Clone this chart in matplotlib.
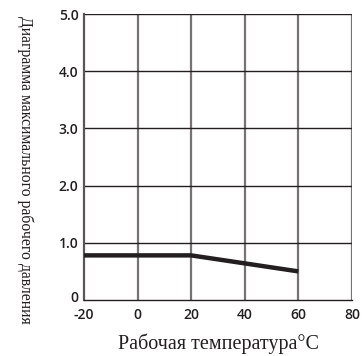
import matplotlib.pyplot as plt
import matplotlib.transforms as mtransforms
import numpy as np

# working temperature (C) and max working pressure
temp = [-20, 20, 60]
pressure = [0.78, 0.78, 0.5]

xticks = [-20, 0, 20, 40, 60, 80]
xlabels = ['-20', '0', '20', '40', '60', '80']
yticks = [0, 1.0, 2.0, 3.0, 4.0, 5.0]
ylabels = ['0', '1.0', '2.0', '3.0', '4.0', '5.0']

fig = plt.figure(figsize=(3.62, 3.56), dpi=100)
ax = fig.add_axes([84/362, 1 - 300/356, (352-84)/362, (300-14)/356])

ax.set_xlim(-20, 80)
ax.set_ylim(0, 5)

for x in xticks[1:]:
    ax.axvline(x, color='#777373', lw=1.6, zorder=1)
for y in yticks[1:]:
    ax.axhline(y, color='#231f20', lw=1.0, zorder=1)

ax.plot(temp, pressure, color='#231f20', lw=3.2, solid_capstyle='butt', zorder=3)

for s in ['top', 'right']:
    ax.spines[s].set_visible(False)
ax.spines['left'].set_color('#5a5556')
ax.spines['left'].set_linewidth(1.6)
ax.spines['bottom'].set_color('#231f20')
ax.spines['bottom'].set_linewidth(1.0)

ax.set_xticks(xticks)
ax.set_xticklabels(xlabels)
ax.set_yticks(yticks)
ax.set_yticklabels(ylabels)
ax.tick_params(length=0, labelsize=10, colors='#231f20')
ax.tick_params(axis='x', pad=6)
ax.tick_params(axis='y', pad=4)
for t in ax.get_xticklabels() + ax.get_yticklabels():
    t.set_fontweight('semibold')
    t.set_family('Open Sans')
# nudge the y "0" label up a little, like the reference
lab0 = ax.get_yticklabels()[0]
lab0.set_transform(lab0.get_transform() + mtransforms.ScaledTranslation(0, 3/100, fig.dpi_scale_trans))

ax.set_xlabel('Рабочая температура°C', family='Liberation Serif', fontsize=14.5,
              color='#231f20', labelpad=8)
fig.text(25/362, 1 - 170/356, 'Диаграмма максимального рабочего давления', rotation=270,
         family='Liberation Serif', fontsize=11.3, color='#231f20',
         ha='center', va='center')

plt.savefig('out.png')
